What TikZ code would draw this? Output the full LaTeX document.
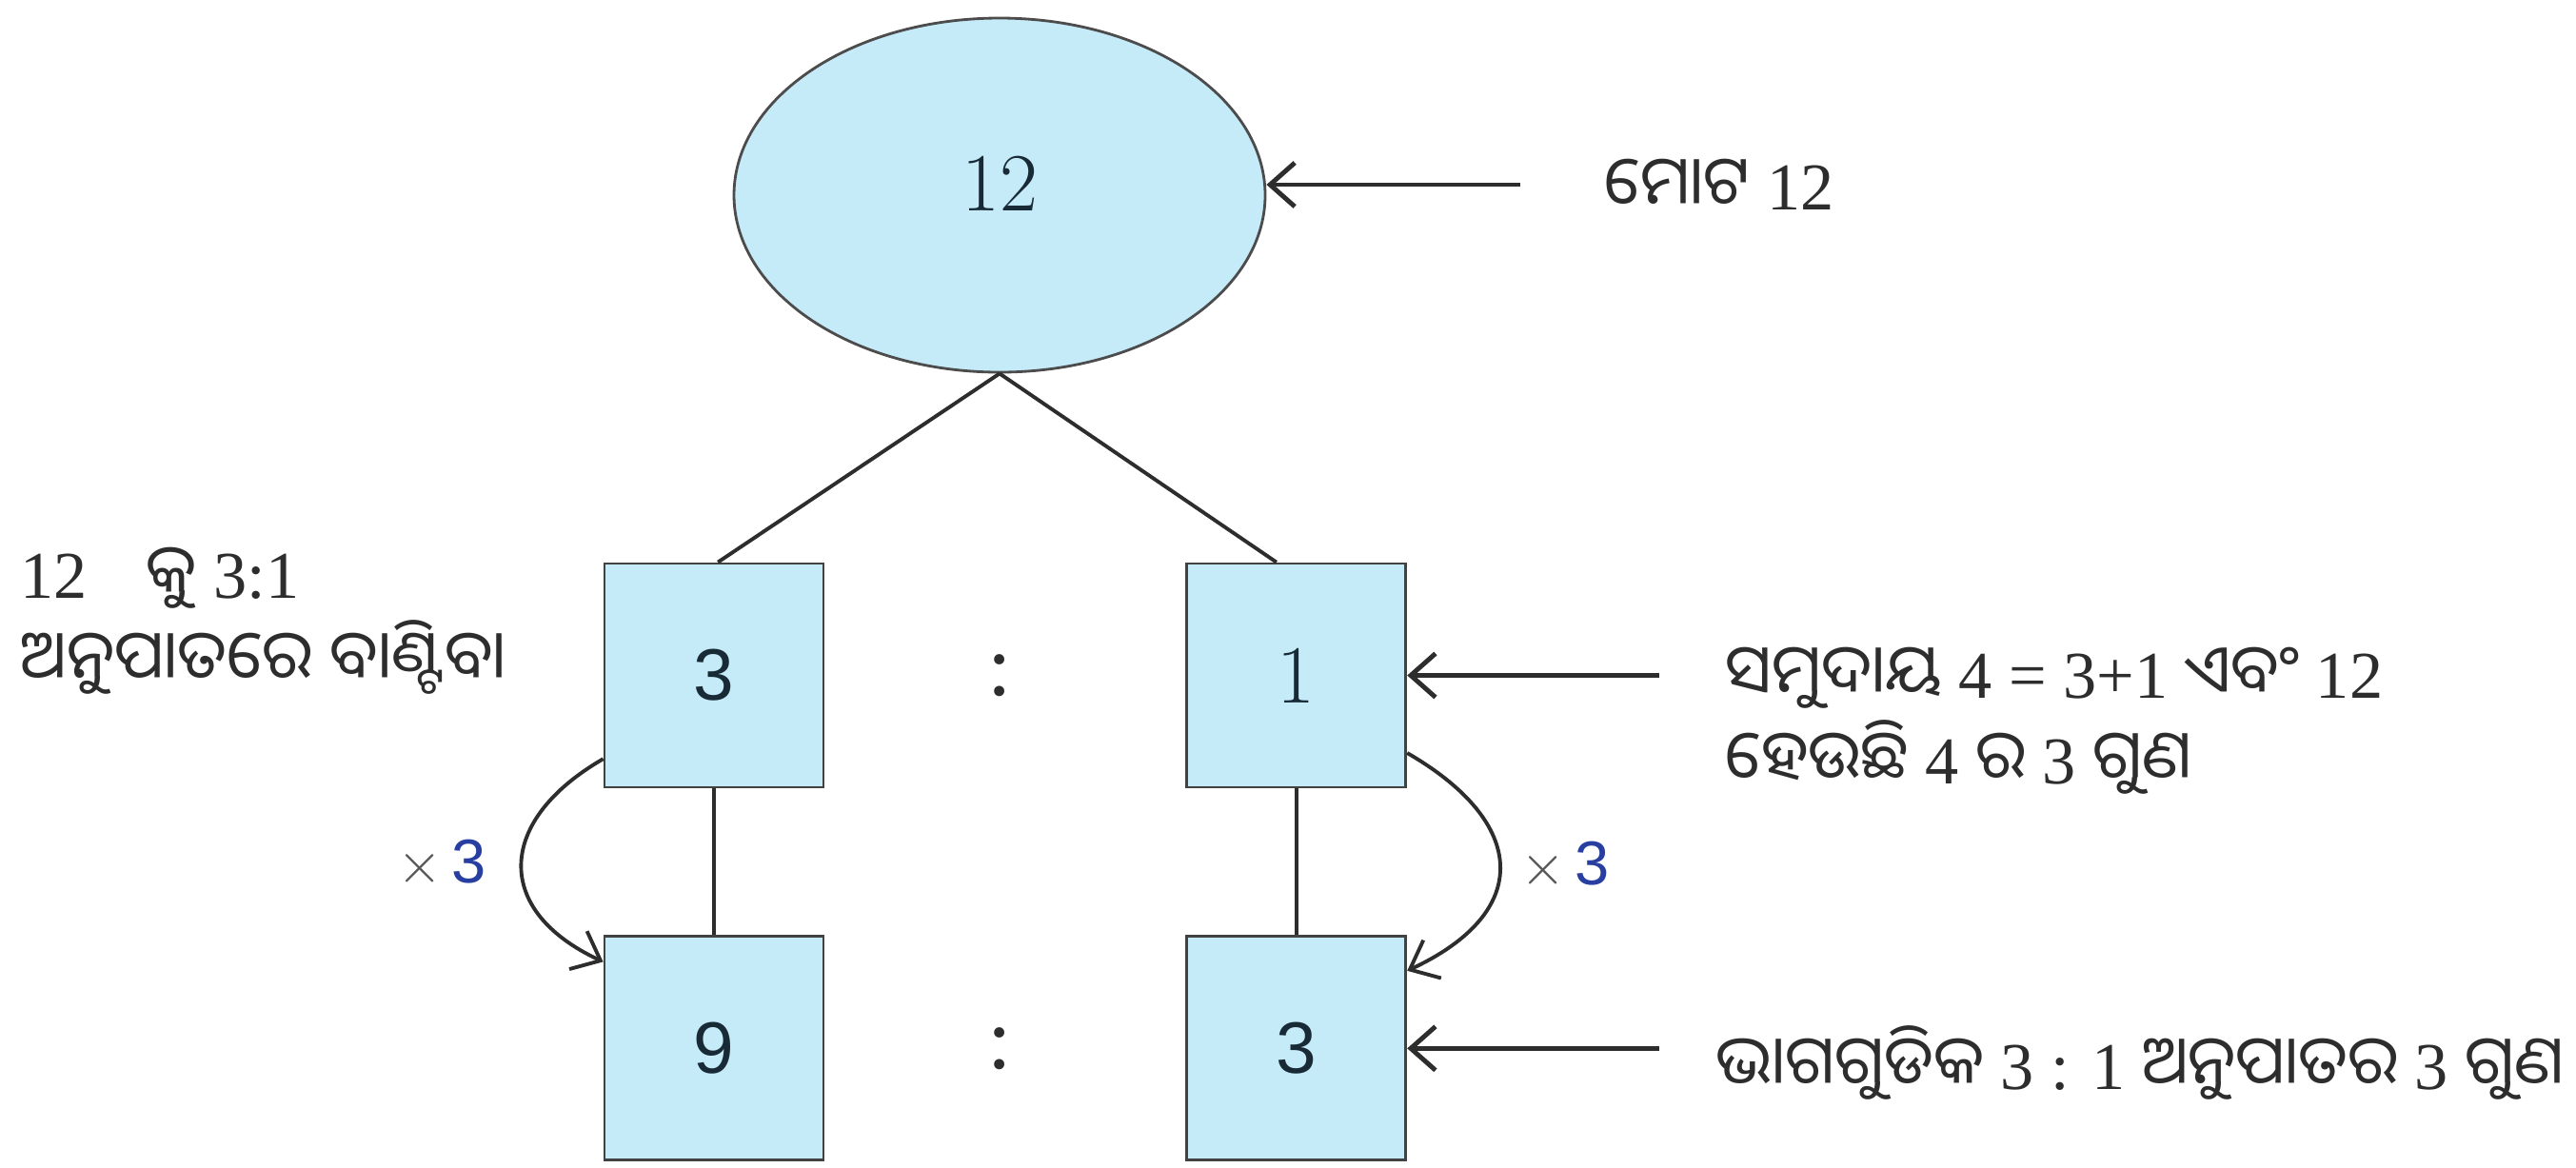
\documentclass[tikz,border=0pt]{standalone}
\usepackage{fontspec}
\usepackage{xcolor}
\usepackage{tikz}
\usetikzlibrary{arrows.meta, positioning, shapes.geometric, calc}
\newfontfamily\oriya[Script=Oriya]{Noto Sans Oriya UI}
\newfontfamily\serifnum{Liberation Serif}
\newfontfamily\sansnum{Liberation Sans}
\newcommand{\od}[1]{{\oriya #1}}
\newcommand{\notefont}{\serifnum\fontsize{20}{25.6}\selectfont}
\definecolor{partblue}{RGB}{197,234,248}
\definecolor{inkgray}{RGB}{45,45,45}
\definecolor{digitslate}{RGB}{25,42,55}
\definecolor{factorblue}{RGB}{40,62,160}

\begin{document}
\begin{tikzpicture}[
    whole/.style={ellipse, draw=inkgray!85, line width=0.8pt, fill=partblue, minimum width=5.58cm, minimum height=3.72cm, inner sep=0pt, text depth=0.24cm, text=digitslate, font=\fontsize{24.7}{30}\selectfont},
    part/.style={draw=inkgray!90, line width=0.8pt, fill=partblue, minimum width=2.30cm, minimum height=2.35cm, inner sep=0pt, text=digitslate, font=\fontsize{24.7}{30}\selectfont},
    note/.style={inner sep=0pt, align=left, text=inkgray, font=\notefont},
    link/.style={line width=1.1pt, draw=inkgray},
    turn/.style={-{Straight Barb[length=2.6mm, width=4.4mm]}, line width=1.1pt, draw=inkgray},
    pointer/.style={-{Straight Barb[length=2.6mm, width=4.6mm]}, line width=1.4pt, draw=inkgray, shorten <=#1},
    factor/.style={inner sep=0.2cm, font=\fontsize{18.5}{22}\selectfont},
    sep/.style={text=inkgray, font=\serifnum\fontsize{26}{30}\selectfont}
]
\useasboundingbox (0,0) rectangle (27.06,-12.26);

% Whole and its parts
\node[whole] (total) at (10.50,-2.05) {12};
\node[part, font=\sansnum\fontsize{21.8}{26}\selectfont] (partA) at (7.50,-7.095) {3};
\node[part, right=3.79cm of partA] (partB) {1};
\node[part, font=\sansnum\fontsize{21.8}{26}\selectfont, below=1.54cm of partA] (sumA) {9};
\node[part, font=\sansnum\fontsize{21.8}{26}\selectfont, right=3.79cm of sumA] (sumB) {3};

\node[sep] (colonA) at ($(partA)!0.49!(partB)$) {:};
\node[sep] (colonB) at ($(sumA)!0.49!(sumB)$) {:};

% Notes
\node[note, anchor=west] (totaltxt) at (16.85,-1.94) {\od{ମୋଟ} 12};
\node[note, anchor=west] (splittxt) at (0.21,-6.52) {12\hspace{0.62cm}\od{କୁ} 3:1\\\od{ଅନୁପାତରେ ବାଣ୍ଟିବା}};
\node[note, anchor=west] (ratiotxt) at (18.12,-7.57) {\od{ସମୁଦାୟ} 4 = 3+1 \od{ଏବଂ} 12\\\od{ହେଉଛି} 4 \od{ର} 3 \od{ଗୁଣ}};
\node[note, anchor=west] (scaletxt) at (18.02,-11.16) {\od{ଭାଗଗୁଡିକ} 3 : 1 \od{ଅନୁପାତର} 3 \od{ଗୁଣ}};

% Tree lines
\draw[link] (total.south) -- (partA.88);
\draw[link] (total.south) -- (partB.100);
\draw[link] (partA.south) -- (sumA.north);
\draw[link] (partB.south) -- (sumB.north);

% Times three
\draw[turn] (partA.217) to[out=210, in=155, looseness=1.55]
    node[left, factor, xshift=-0.15cm] {{\color{inkgray!80}$\times$}\hspace{0.1cm}{\sansnum\color{factorblue}3}} (sumA.142);
\draw[turn] (partB.-35) to[out=-30, in=25, looseness=1.64]
    node[right, factor] {{\color{inkgray!80}$\times$}\hspace{0.1cm}{\sansnum\color{factorblue}3}} (sumB.35);

% Pointers
\draw[pointer=0.88cm] (totaltxt.west) -- (totaltxt.west -| total.east);
\draw[pointer=0.69cm] (ratiotxt.west |- partB.east) -- (partB.east);
\draw[pointer=0.59cm] (scaletxt.west |- sumB.east) -- (sumB.east);
\end{tikzpicture}
\end{document}
